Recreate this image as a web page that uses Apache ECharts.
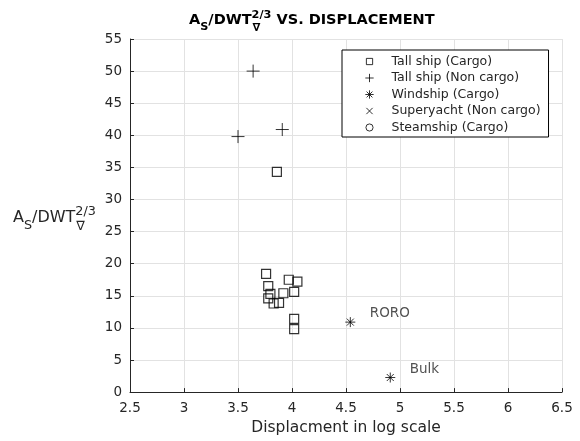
<!DOCTYPE html>
<html>
<head>
<meta charset="utf-8">
<script src="https://cdn.jsdelivr.net/npm/echarts@6/dist/echarts.min.js"></script>
<style>
  html, body { margin: 0; padding: 0; background: #ffffff; }
  #chart { width: 580px; height: 441px; }
</style>
</head>
<body>
<div id="chart"></div>
<script>
// ---- Data ----------------------------------------------------------------
const xTickLabels = ['2.5', '3', '3.5', '4', '4.5', '5', '5.5', '6', '6.5'];
const yTickLabels = ['0', '5', '10', '15', '20', '25', '30', '35', '40', '45', '50', '55'];

const seriesNames = [
  'Tall ship (Cargo)',
  'Tall ship (Non cargo)',
  'Windship (Cargo)',
  'Superyacht (Non cargo)',
  'Steamship (Cargo)'
];

// Tall ship (Cargo): log10 displacement vs A_S / DWT^(2/3)
const tallCargoX = [3.86, 3.76, 3.78, 3.80, 3.78, 3.83, 3.88, 3.92, 3.97, 4.05, 4.02, 4.02, 4.02];
const tallCargoY = [34.3, 18.4, 16.5, 15.3, 14.6, 13.8, 13.9, 15.4, 17.5, 17.2, 15.6, 11.4, 9.8];

// Tall ship (Non cargo)
const tallNonCargoX = [3.64, 3.50, 3.91];
const tallNonCargoY = [50.0, 39.8, 40.9];

// Windship (Cargo)
const windshipX = [4.54, 4.91];
const windshipY = [10.9, 2.27];
const windshipNames = ['RORO', 'Bulk'];

// Superyacht (Non cargo) and Steamship (Cargo): no points in this view
const superyachtX = [];
const superyachtY = [];
const steamshipX = [];
const steamshipY = [];

// ---- Helpers ---------------------------------------------------------------
const FONT = 'DejaVu Sans';
const INK = '#262626';

const zip = (xs, ys) => xs.map((x, i) => [x, ys[i]]);

const measureCtx = document.createElement('canvas').getContext('2d');
function textWidth(s, size, weight) {
  measureCtx.font = weight + ' ' + size + 'px "' + FONT + '"';
  return measureCtx.measureText(s).width;
}

function textEl(t, x, y, size, weight, color) {
  return {
    type: 'text', x: x, y: y, silent: true,
    style: {
      text: t, fontSize: size, fontWeight: weight, fontFamily: FONT,
      fill: color, align: 'left', verticalAlign: 'middle'
    }
  };
}

// Lays out a run of base text, subscripts and stacked super/subscripts.
function mathLabel(parts, x0, yc, size, weight, color, smallRatio) {
  const small = size * smallRatio;
  const els = [];
  let x = x0;
  parts.forEach(p => {
    if (p.base !== undefined) {
      els.push(textEl(p.base, x, yc, size, weight, color));
      x += textWidth(p.base, size, weight);
    } else if (p.sub !== undefined && p.sup === undefined) {
      els.push(textEl(p.sub, x, yc + size * 0.5, small, weight, color));
      x += textWidth(p.sub, small, weight);
    } else {
      els.push(textEl(p.sup, x, yc - size * 0.36, small, weight, color));
      els.push(textEl(p.sub, x + 1, yc + size * 0.55, small, weight, color));
      x += Math.max(textWidth(p.sup, small, weight), textWidth(p.sub, small, weight));
    }
  });
  return els;
}

const quotientParts = [
  { base: 'A' }, { sub: 'S' }, { base: '/DWT' }, { sup: '2/3', sub: '\u2207' }
];

// ---- Marker shapes ---------------------------------------------------------
const SQUARE = 'path://M0,0L10,0L10,10L0,10Z';
const PLUS = 'path://M5,0L5,10M0,5L10,5';
const STAR = 'path://M5,0L5,10M0,5L10,5M1.5,1.5L8.5,8.5M8.5,1.5L1.5,8.5';
const CROSS = 'path://M0,0L10,10M10,0L0,10';
const CIRCLE = 'path://M0,5A5,5,0,1,1,10,5A5,5,0,1,1,0,5Z';

// Legend icons carry an invisible margin so they sit smaller in the key
const legendIcons = [
  'path://M-3,-3M13,13M0,0L10,0L10,10L0,10Z',
  'path://M-1,-1M11,11M5,0L5,10M0,5L10,5',
  'path://M-1,-1M11,11M5,0L5,10M0,5L10,5M1.5,1.5L8.5,8.5M8.5,1.5L1.5,8.5',
  'path://M-3,-3M13,13M0,0L10,10M10,0L0,10',
  'path://M-2,-2M12,12M0,5A5,5,0,1,1,10,5A5,5,0,1,1,0,5Z'
];

const strokeOnly = { color: 'none', borderColor: '#000', borderWidth: 1 };

function scatter(name, data, symbol, size, extra) {
  return Object.assign({
    type: 'scatter', name: name, data: data,
    symbol: symbol, symbolSize: size,
    itemStyle: strokeOnly,
    emphasis: { disabled: true },
    z: 3
  }, extra || {});
}

// ---- Chart -----------------------------------------------------------------
const chart = echarts.init(document.getElementById('chart'), null, { renderer: 'canvas' });

const xMin = +xTickLabels[0], xMax = +xTickLabels[xTickLabels.length - 1];
const yMin = +yTickLabels[0], yMax = +yTickLabels[yTickLabels.length - 1];

const axisCommon = {
  type: 'value',
  axisLine: { show: true, lineStyle: { color: INK, width: 1 } },
  axisTick: { show: true, inside: true, length: 4, lineStyle: { color: INK } },
  axisLabel: { color: INK, fontFamily: FONT, fontSize: 13.5, margin: 9 },
  splitLine: { show: true, lineStyle: { color: '#e2e2e2', width: 1 } }
};

const option = {
  animation: false,
  backgroundColor: '#ffffff',
  textStyle: { fontFamily: FONT },
  grid: { left: 130, right: 18, top: 39, bottom: 45, containLabel: false },
  xAxis: Object.assign({}, axisCommon, {
    min: xMin, max: xMax, interval: 0.5,
    name: 'Displacment in log scale',
    nameLocation: 'middle', nameGap: 27,
    nameTextStyle: { color: INK, fontFamily: FONT, fontSize: 15.5 },
    axisLabel: Object.assign({}, axisCommon.axisLabel, {
      formatter: v => xTickLabels[Math.round((v - xMin) / 0.5)]
    })
  }),
  yAxis: Object.assign({}, axisCommon, {
    min: yMin, max: yMax, interval: 5,
    axisLabel: Object.assign({}, axisCommon.axisLabel, {
      margin: 8,
      formatter: v => yTickLabels[Math.round((v - yMin) / 5)]
    })
  }),
  legend: {
    orient: 'vertical',
    left: 342, top: 50,
    padding: [4, 8, 2, 20],
    itemGap: 1.5,
    itemWidth: 10, itemHeight: 10,
    backgroundColor: '#ffffff',
    borderColor: '#000000', borderWidth: 1, borderRadius: 0,
    selectedMode: false,
    itemStyle: strokeOnly,
    data: seriesNames.map((n, i) => ({ name: n, icon: legendIcons[i], itemStyle: strokeOnly })),
    formatter: '{t|{name}}',
    textStyle: {
      color: INK, fontFamily: FONT, fontSize: 12.5, lineHeight: 14,
      rich: { t: { padding: [0, 0, 0, 12], fontSize: 12.5, fontFamily: FONT, color: INK, lineHeight: 14 } }
    }
  },
  series: [
    scatter(seriesNames[0], zip(tallCargoX, tallCargoY), SQUARE, 9,
      { itemStyle: { color: 'none', borderColor: '#000', borderWidth: 1.2 } }),
    scatter(seriesNames[1], zip(tallNonCargoX, tallNonCargoY), PLUS, 13),
    scatter(seriesNames[2], windshipX.map((x, i) => ({ value: [x, windshipY[i]], name: windshipNames[i] })), STAR, 10, {
      label: {
        show: true, position: 'right', distance: 12, offset: [0, -8.5],
        formatter: p => p.name,
        color: INK, fontFamily: FONT, fontSize: 13.5
      }
    }),
    scatter(seriesNames[3], zip(superyachtX, superyachtY), CROSS, 8),
    scatter(seriesNames[4], zip(steamshipX, steamshipY), CIRCLE, 8)
  ],
  graphic: [].concat(
    // Title
    mathLabel(quotientParts.concat([{ base: ' VS. DISPLACEMENT' }]), 189, 20, 14.5, 'bold', '#000000', 0.78),
    // Y-axis label
    mathLabel(quotientParts, 13, 217.5, 16, 'normal', INK, 0.8)
  )
};

chart.setOption(option);
</script>
</body>
</html>
